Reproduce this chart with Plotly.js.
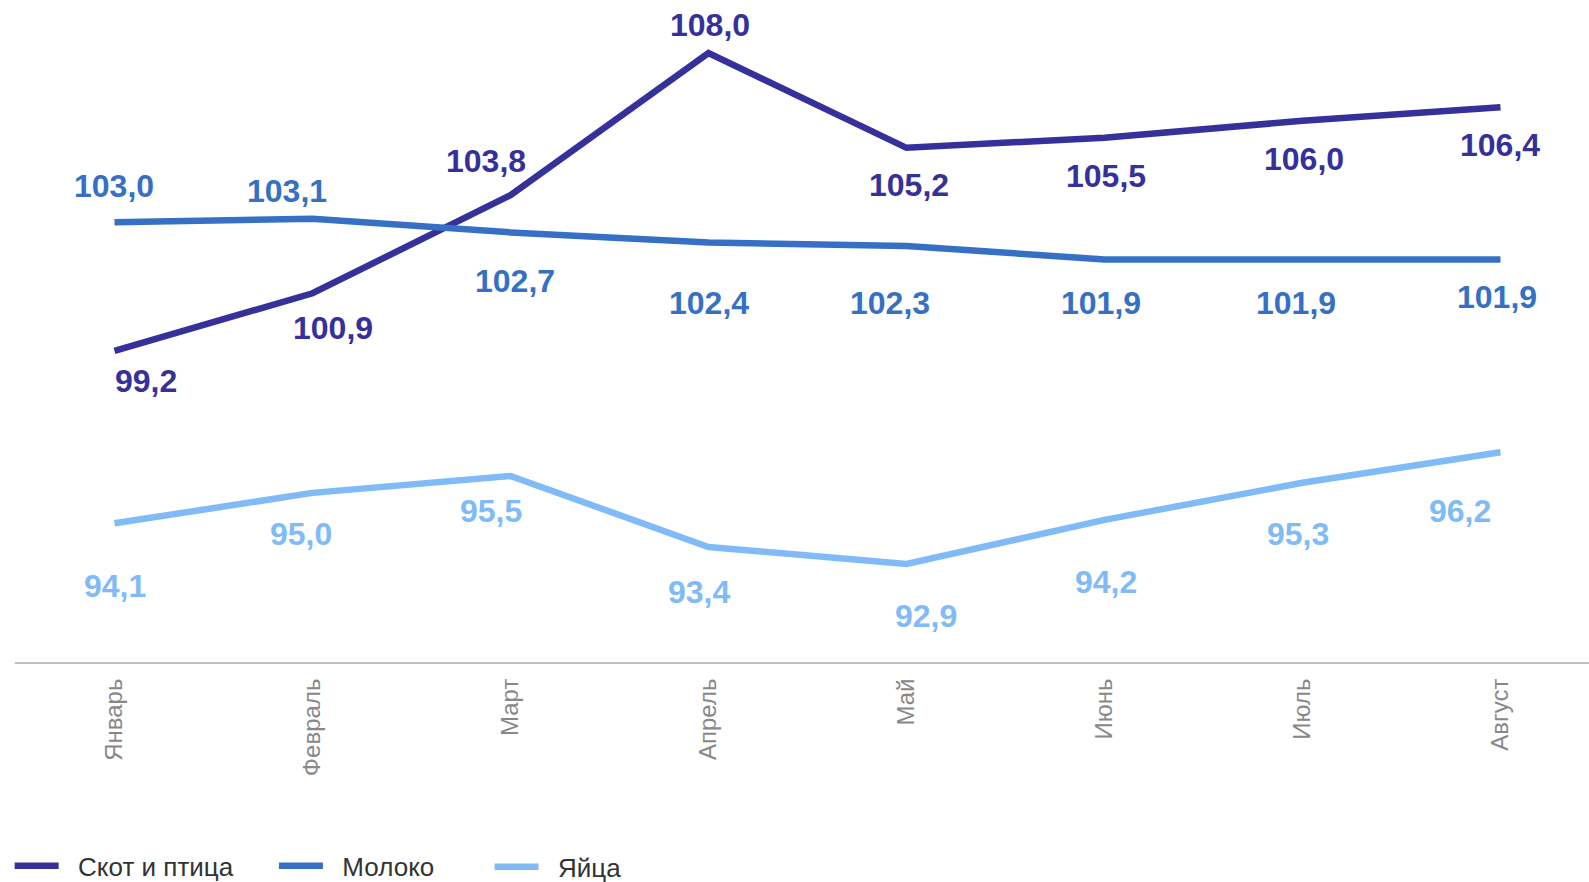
<!DOCTYPE html>
<html>
<head>
<meta charset="utf-8">
<script src="https://cdn.plot.ly/plotly-3.0.1.min.js"></script>
<style>html,body{margin:0;padding:0;background:#fff;}#chart{width:1589px;height:882px;}</style>
</head>
<body>
<div id="chart"></div>
<script>
const months = ["Январь", "Февраль", "Март", "Апрель", "Май", "Июнь", "Июль", "Август"];
const seriesNames = ["Скот и птица", "Молоко", "Яйца"];
const livestock = [99.2, 100.9, 103.8, 108.0, 105.2, 105.5, 106.0, 106.4];
const milk = [103.0, 103.1, 102.7, 102.4, 102.3, 101.9, 101.9, 101.9];
const eggs = [94.1, 95.0, 95.5, 93.4, 92.9, 94.2, 95.3, 96.2];

// label offsets in pixels (dx right, dy down) relative to each point
const livestockOffsets = [[32,30],[21,35],[-24,-34],[2,-28],[3,37],[2,38],[2,38],[0,38]];
const milkOffsets = [[0,-36],[-25,-28],[5,49],[1,60],[-16,57],[-3,44],[-6,44],[-3,38]];
const eggsOffsets = [[1,63],[-11,41],[-19,35],[-9,45],[20,52],[2,62],[-4,51],[-40,59]];

const colors = ["#35309a", "#3570c4", "#80bbf7"];
const FONT = "Liberation Sans, Arial, sans-serif";

const allSeries = [livestock, milk, eggs];
const allOffsets = [livestockOffsets, milkOffsets, eggsOffsets];
const legendIds = ["legend", "legend2", "legend3"];
const PAD = "\u00A0\u00A0";

const traces = allSeries.map((vals, i) => ({
  type: "scatter",
  mode: "lines",
  x: months,
  y: vals,
  name: PAD + seriesNames[i],
  legend: legendIds[i],
  line: {color: colors[i], width: 6.5},
  hoverinfo: "skip"
}));

const fmt = v => v.toFixed(1).replace(".", ",");
const annotations = [];
allSeries.forEach((vals, i) => {
  vals.forEach((v, j) => {
    annotations.push({
      x: months[j], y: v, xref: "x", yref: "y",
      text: fmt(v), showarrow: false,
      xshift: allOffsets[i][j][0], yshift: -allOffsets[i][j][1],
      font: {family: FONT, size: 32, color: colors[i], weight: "bold"}
    });
  });
});

const legendBase = {
  orientation: "h", xanchor: "left", yanchor: "middle",
  font: {family: FONT, size: 26, color: "#333333"},
  bgcolor: "rgba(0,0,0,0)", itemwidth: 44, itemclick: false, itemdoubleclick: false
};

const layout = {
  width: 1589, height: 882,
  margin: {l: 15, r: 0, t: 0, b: 220, autoexpand: false},
  paper_bgcolor: "#ffffff", plot_bgcolor: "#ffffff",
  showlegend: true,
  hovermode: false,
  xaxis: {
    type: "category",
    range: [-0.5025, 7.447],
    showline: true, linecolor: "#c0c0c0", linewidth: 2,
    showgrid: false, zeroline: false,
    ticks: "", tickangle: -90,
    ticklabelstandoff: 5,
    tickfont: {family: FONT, size: 24, color: "#888888"}
  },
  yaxis: {
    range: [90, 109.57],
    showgrid: false, zeroline: false, showline: false, showticklabels: false, ticks: ""
  },
  legend: Object.assign({}, legendBase, {x: -0.0034, y: -0.308}),
  legend2: Object.assign({}, legendBase, {x: 0.1645, y: -0.308}),
  legend3: Object.assign({}, legendBase, {x: 0.3015, y: -0.3095}),
  annotations: annotations
};

Plotly.newPlot("chart", traces, layout, {staticPlot: true, displayModeBar: false});
</script>
</body>
</html>
